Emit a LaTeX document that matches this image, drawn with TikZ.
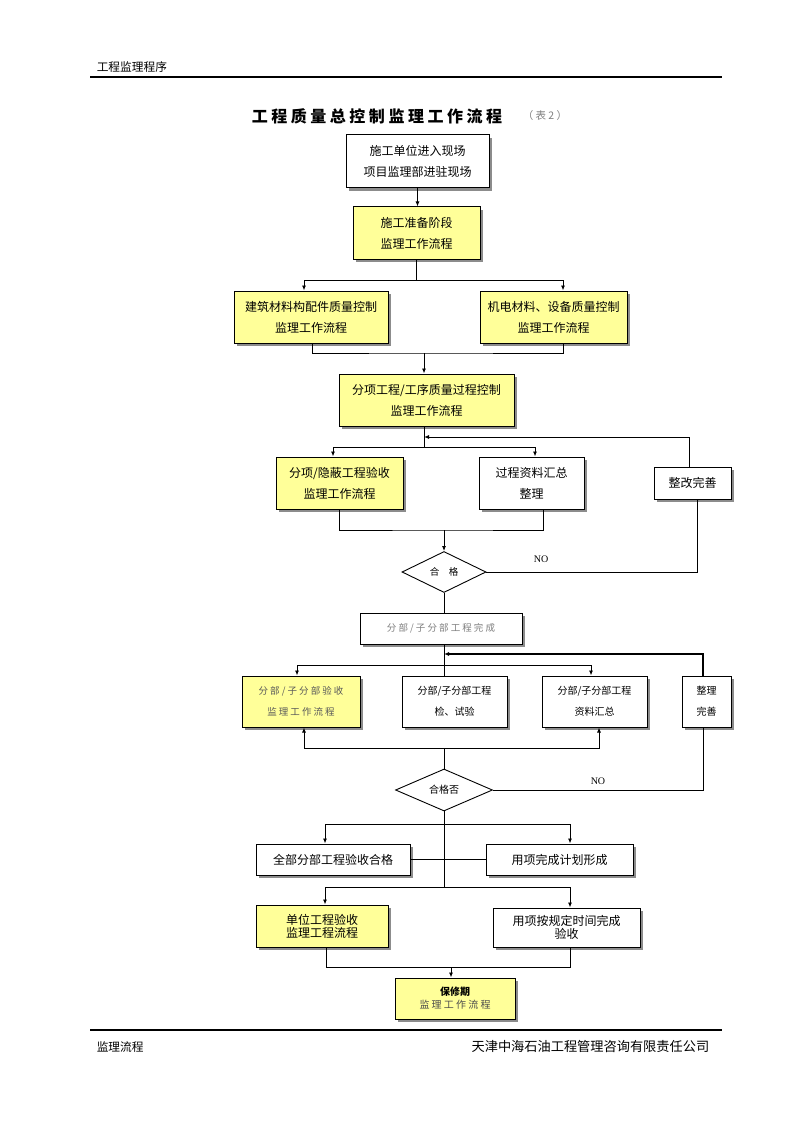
\documentclass[tikz,border=0pt]{standalone}
\usepackage{fontspec}
\setmainfont{Noto Sans CJK SC}
\newfontfamily\spacedfont[LetterSpace=22]{Noto Sans CJK SC}
\newfontfamily\titlefont[LetterSpace=22]{Noto Sans CJK SC}
\newfontfamily\latinfont{Liberation Serif}
\usetikzlibrary{shapes.geometric,shadows,arrows.meta}
\definecolor{boxyellow}{HTML}{FFFF99}
\definecolor{greytext}{HTML}{7F7F7F}

\begin{document}
\begin{tikzpicture}[x=1pt,y=-1pt,
	line width=0.9pt,
	arr/.style={-{Latex[length=5pt,width=4pt]}},
	box/.style={draw, line width=1pt, fill=white, align=center, inner sep=0pt,
		drop shadow={fill=black!45, opacity=1, shadow xshift=3pt, shadow yshift=-3pt},
		font=\fontsize{12}{21}\selectfont},
	ybox/.style={box, fill=boxyellow},
	check/.style={draw, diamond, inner sep=0pt, font=\fontsize{9.5}{10}\selectfont},
	nolabel/.style={font=\latinfont\fontsize{10}{10}\selectfont}]
\useasboundingbox (0,0) rectangle (794,1123);

% header and footer
\node[anchor=west, font=\fontsize{11.7}{12}\selectfont] (head) at (93,67) {工程监理程序};
\draw[line width=2pt] (90,77) -- (722,77);
\draw[line width=2pt] (90,1030) -- (722,1030);
\node[anchor=west, font=\fontsize{11.7}{12}\selectfont] (footl) at (93,1047) {监理流程};
\node[anchor=east, font=\fontsize{13.2}{14}\selectfont] (footr) at (713,1047) {天津中海石油工程管理咨询有限责任公司};

% title
\node[font=\titlefont\bfseries\fontsize{16}{18}\selectfont] (title) at (377,116) {工程质量总控制监理工作流程};
\node[anchor=west, text=greytext, font=\spacedfont\fontsize{10.5}{12}\selectfont] (tableno) at (519,116) {（表2）};

% boxes
\node[box, minimum width=143pt, minimum height=53pt] (enter) at (417.5,161.5) {施工单位进入现场\\项目监理部进驻现场};
\node[ybox, minimum width=127pt, minimum height=52pt] (prep) at (416.5,233) {施工准备阶段\\监理工作流程};
\node[ybox, minimum width=154pt, minimum height=52pt] (mat) at (311,317) {建筑材料构配件质量控制\\监理工作流程};
\node[ybox, minimum width=147pt, minimum height=52pt] (equip) at (553.5,317) {机电材料、设备质量控制\\监理工作流程};
\node[ybox, minimum width=175pt, minimum height=52pt] (proc) at (426.5,400) {分项工程/工序质量过程控制\\监理工作流程};
\node[ybox, minimum width=127pt, minimum height=52pt] (hidden) at (339.5,483) {分项/隐蔽工程验收\\监理工作流程};
\node[box, minimum width=105pt, minimum height=52pt] (data) at (531.5,483) {过程资料汇总\\整理};
\node[box, minimum width=77pt, minimum height=32pt] (fix) at (692.5,483) {整改完善};
\node[check, minimum width=84pt, minimum height=41pt] (d1) at (444,572) {合　格};

\node[box, minimum width=162pt, minimum height=31pt, text=greytext,
	font=\spacedfont\fontsize{9.5}{12}\selectfont] (done) at (441,628.5) {分部/子分部工程完成};
\node[ybox, minimum width=118pt, minimum height=51pt, text=black!65,
	font=\spacedfont\fontsize{9.5}{21}\selectfont] (subacc) at (301,701.5) {分部/子分部验收\\监理工作流程};
\node[box, minimum width=105pt, minimum height=51pt, font=\fontsize{10}{21}\selectfont] (test) at (454.5,701.5) {分部/子分部工程\\检、试验};
\node[box, minimum width=105pt, minimum height=51pt, font=\fontsize{10}{21}\selectfont] (subdata) at (594.5,701.5) {分部/子分部工程\\资料汇总};
\node[box, minimum width=49pt, minimum height=51pt, font=\fontsize{10}{21}\selectfont] (tidy) at (706.5,701.5) {整理\\完善};
\node[check, minimum width=97pt, minimum height=42pt, font=\fontsize{10}{10}\selectfont] (d2) at (444,790) {合格否};

\node[box, minimum width=154pt, minimum height=31pt] (allok) at (333,859.5) {全部分部工程验收合格};
\node[box, minimum width=147pt, minimum height=31pt] (plan) at (559.5,859.5) {用项完成计划形成};
\node[ybox, minimum width=132pt, minimum height=42pt, font=\fontsize{12}{13}\selectfont] (unit) at (322,926) {单位工程验收\\监理工程流程};
\node[box, minimum width=147pt, minimum height=39pt, font=\fontsize{12}{13}\selectfont] (timed) at (566.5,927.5) {用项按规定时间完成\\验收};
\node[ybox, minimum width=120pt, minimum height=41pt, font=\fontsize{10}{13}\selectfont] (warr) at (455,998.5) {\textbf{保修期}\\\textcolor{black!70}{\spacedfont 监理工作流程}};

% connectors
\draw[arr] (enter.south) -- (enter.south |- prep.north);
\draw (prep.south) -- (prep.south |- 0,280) coordinate (j1);
\draw[arr] (j1) -| ([xshift=-7pt]mat.north);
\draw[arr] (j1) -| ([xshift=9.5pt]equip.north);
\draw ([xshift=1pt]mat.south) |- (424,353) coordinate (j2) -| ([xshift=9.5pt]equip.south);
\draw[arr] (j2) -- (j2 |- proc.north);

\draw (j2 |- proc.south) -- (j2 |- 0,447) coordinate (j3);
\draw[arr] (j3) -| ([xshift=-6.5pt]hidden.north);
\draw[arr] (j3) -| ([xshift=3.5pt]data.north);
\draw[arr] ([xshift=-3.5pt]fix.north) |- (j3 |- 0,437);
\draw (hidden.south) |- (444,530) coordinate (j4) -| ([xshift=11.5pt]data.south);
\draw[arr] (j4) -- (d1.north);
\draw (d1.east) -| ([xshift=4.5pt]fix.south) node[pos=0.13, above=6pt, nolabel] (no1) {NO};
\draw (d1.south) -- (d1.south |- done.north);

\draw (d1 |- done.south) -- (d1 |- test.north);
\coordinate (j5) at (444,665);
\draw[arr] (j5) -| ([xshift=-4pt]subacc.north);
\draw[arr] (j5) -| ([xshift=-3.5pt]subdata.north);
\draw[arr, line width=1.8pt] ([xshift=-3.5pt]tidy.north) |- (d1 |- 0,654);
\draw (d2.north) -- (444,748) coordinate (j6);
\draw[arr] (j6) -| ([xshift=3pt]subacc.south);
\draw[arr] (j6) -| ([xshift=4.5pt]subdata.south);
\draw (d2.east) -| ([xshift=-3.5pt]tidy.south) node[pos=0.25, above=2pt, nolabel] (no2) {NO};

\draw (d2.south) -- (444,824) coordinate (j7);
\draw[arr] (j7) -| ([xshift=-8pt]allok.north);
\draw[arr] (j7) -| ([xshift=10.5pt]plan.north);
\draw (allok.east) -- (plan.west);
\draw (j7) -- (444,887) coordinate (j8);
\draw[arr] (j8) -| ([xshift=3pt]unit.north);
\draw[arr] (j8) -| ([xshift=3.5pt]timed.north);
\draw ([xshift=4pt]unit.south) |- (451,967) coordinate (j9) -| ([xshift=3.5pt]timed.south);
\draw[arr] (j9) -- (j9 |- warr.north);
\end{tikzpicture}
\end{document}
